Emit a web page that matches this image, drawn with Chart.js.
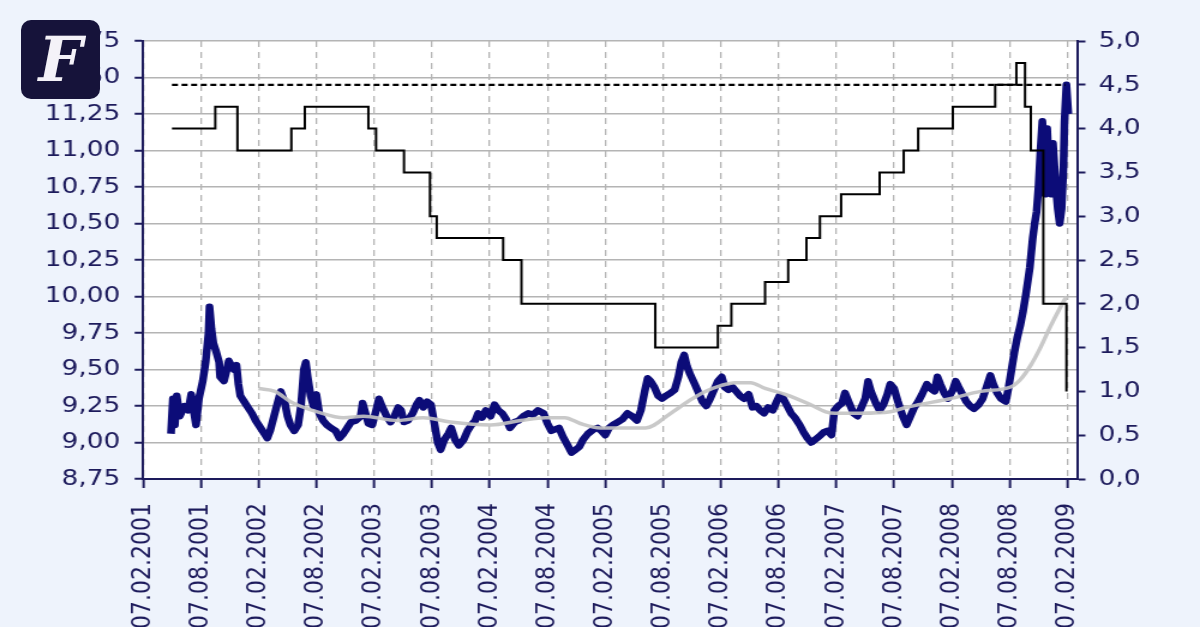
<!DOCTYPE html>
<html>
<head>
<meta charset="utf-8">
<script src="https://cdn.jsdelivr.net/npm/chart.js@4.4.1/dist/chart.umd.min.js"></script>
<style>
html, body { margin: 0; padding: 0; background: #eef3fc; width: 1200px; height: 627px; overflow: hidden; }
#wrap { position: absolute; left: 0; top: 0; width: 1000px; height: 627px; transform: scaleX(1.2); transform-origin: 0 0; }
#logo { position: absolute; left: 21px; top: 20px; width: 79px; height: 79px; border-radius: 10px; background: #16133a;
        color: #f4f2f8; font: bold italic 62px "DejaVu Serif", serif; text-align: center; line-height: 80px; }
</style>
</head>
<body>
<div id="wrap"><canvas id="chart" width="1000" height="627"></canvas></div>
<div id="logo">F</div>
<script>
// x = Monate seit dem 07.02.2001
var tickMonths = [0, 6, 12, 18, 24, 30, 36, 42, 48, 54, 60, 66, 72, 78, 84, 90, 96];
var xTickLabels = ['07.02.2001', '07.08.2001', '07.02.2002', '07.08.2002', '07.02.2003', '07.08.2003',
    '07.02.2004', '07.08.2004', '07.02.2005', '07.08.2005', '07.02.2006', '07.08.2006',
    '07.02.2007', '07.08.2007', '07.02.2008', '07.08.2008', '07.02.2009'];

// Wechselkurs (linke Achse)
var fxMonths = [2.9,3.1,3.3,3.5,3.8,4.3,4.7,5.0,5.3,5.5,
    5.8,6.2,6.5,6.8,6.9,7.1,7.3,7.6,7.9,8.0,
    8.4,8.7,8.9,9.4,9.7,9.9,10.1,10.5,10.9,11.3,
    11.7,12.2,12.6,12.9,13.2,13.6,14.0,14.3,14.7,15.0,
    15.3,15.7,16.1,16.4,16.7,16.9,17.1,17.4,17.7,18.0,
    18.3,18.7,19.1,19.5,20.0,20.4,20.8,21.2,21.6,22.1,
    22.6,22.8,23.1,23.4,23.8,24.2,24.5,24.8,25.3,25.7,
    26.1,26.5,26.8,27.1,27.5,28.0,28.4,28.7,29.1,29.5,
    29.9,30.2,30.6,30.9,31.3,31.7,32.0,32.4,32.8,33.3,
    33.7,34.1,34.5,34.8,35.2,35.6,36.1,36.5,36.9,37.3,
    37.7,38.1,38.6,39.0,39.5,40.0,40.5,41.0,41.6,42.0,
    42.4,42.8,43.2,43.6,44.1,44.5,44.9,45.3,45.7,46.2,
    46.8,47.2,47.6,48.0,48.4,48.8,49.3,49.8,50.3,50.8,
    51.3,51.7,52.1,52.4,52.7,53.1,53.5,53.9,54.3,54.8,
    55.2,55.6,55.9,56.2,56.5,56.8,57.3,57.7,58.1,58.5,
    58.9,59.3,59.7,60.1,60.4,60.8,61.2,61.6,62.0,62.4,
    62.9,63.3,63.7,64.1,64.5,64.9,65.4,65.8,66.1,66.5,
    66.9,67.3,67.7,68.2,68.6,69.0,69.4,69.8,70.2,70.7,
    71.1,71.5,71.8,72.2,72.6,72.9,73.4,73.8,74.2,74.6,
    75.0,75.3,75.6,76.1,76.5,76.9,77.3,77.6,78.0,78.4,
    78.9,79.3,79.7,80.1,80.5,80.9,81.4,81.8,82.2,82.5,
    82.8,83.2,83.6,84.1,84.4,84.7,85.1,85.5,85.9,86.3,
    86.8,87.2,87.6,88.0,88.3,88.7,89.1,89.6,89.9,90.2,
    90.5,90.8,91.1,91.4,91.7,92.1,92.4,92.6,92.8,93.0,
    93.2,93.4,93.6,93.7,93.9,94.1,94.3,94.5,94.8,95.0,
    95.2,95.4,95.6,95.7,95.9,96.1];
var fxValues = [9.06,9.3,9.12,9.32,9.18,9.25,9.22,9.33,9.2,9.12,
    9.3,9.42,9.55,9.75,9.93,9.78,9.68,9.62,9.55,9.45,
    9.42,9.5,9.56,9.5,9.53,9.4,9.32,9.28,9.24,9.2,
    9.15,9.1,9.06,9.03,9.08,9.18,9.28,9.35,9.28,9.18,
    9.12,9.08,9.12,9.25,9.5,9.55,9.45,9.32,9.25,9.33,
    9.2,9.15,9.12,9.1,9.08,9.03,9.06,9.1,9.14,9.15,
    9.18,9.27,9.2,9.13,9.12,9.22,9.3,9.25,9.18,9.14,
    9.18,9.24,9.22,9.14,9.15,9.2,9.26,9.29,9.24,9.28,
    9.26,9.15,9.0,8.95,9.02,9.06,9.1,9.02,8.98,9.02,
    9.08,9.12,9.15,9.2,9.17,9.22,9.18,9.26,9.22,9.2,
    9.16,9.1,9.14,9.15,9.18,9.2,9.19,9.22,9.2,9.13,
    9.08,9.09,9.1,9.04,8.98,8.93,8.95,8.97,9.02,9.06,
    9.09,9.1,9.08,9.05,9.1,9.12,9.14,9.16,9.2,9.18,
    9.15,9.22,9.35,9.44,9.42,9.38,9.32,9.3,9.32,9.34,
    9.36,9.45,9.55,9.6,9.52,9.47,9.4,9.34,9.28,9.25,
    9.3,9.36,9.42,9.45,9.38,9.36,9.38,9.35,9.32,9.3,
    9.33,9.24,9.25,9.22,9.2,9.24,9.22,9.28,9.32,9.3,
    9.25,9.2,9.17,9.12,9.07,9.03,9.0,9.02,9.04,9.07,
    9.08,9.05,9.22,9.25,9.27,9.34,9.26,9.2,9.18,9.24,
    9.3,9.42,9.35,9.27,9.22,9.26,9.33,9.4,9.37,9.28,
    9.18,9.12,9.18,9.24,9.28,9.33,9.4,9.37,9.35,9.45,
    9.4,9.34,9.3,9.36,9.42,9.38,9.33,9.28,9.25,9.23,
    9.26,9.3,9.38,9.46,9.4,9.34,9.3,9.28,9.38,9.5,
    9.62,9.72,9.8,9.9,10.02,10.2,10.4,10.5,10.58,10.75,
    11.0,11.2,11.0,10.7,11.15,10.85,10.7,11.05,10.75,10.6,
    10.5,10.6,10.9,11.2,11.45,11.25];

// gleitender Durchschnitt (linke Achse)
var avgMonths = [12.0,13.7,15.3,16.3,18.1,20.8,22.9,26.4,29.1,31.9,36.1,39.2,41.8,43.8,45.4,47.5,
    52.2,54.8,56.8,58.4,60.0,61.5,63.1,64.6,66.7,69.3,70.9,71.9,74.5,77.6,79.2,80.7,
    83.8,87.0,90.1,91.1,92.2,93.2,94.2,95.3,95.9];
var avgValues = [9.37,9.35,9.28,9.25,9.21,9.17,9.18,9.15,9.17,9.14,9.12,9.15,9.17,9.17,9.13,9.10,
    9.10,9.20,9.29,9.35,9.39,9.41,9.41,9.37,9.33,9.26,9.21,9.20,9.20,9.21,9.24,9.26,
    9.30,9.35,9.38,9.43,9.53,9.65,9.79,9.93,10.0];

// Leitzins (rechte Achse), Wert gilt ab dem jeweiligen Monat
var rateMonths = [3.0, 7.5, 9.8, 15.4, 16.8, 23.4, 24.2, 27.1, 29.8, 30.5, 37.4, 39.3, 53.2, 59.7, 61.1,
    64.6, 67.0, 68.9, 70.3, 72.5, 76.5, 79.0, 80.5, 84.1, 88.5, 90.7, 91.6, 92.2, 93.5, 95.9];
var rateValues = [4.0, 4.25, 3.75, 4.0, 4.25, 4.0, 3.75, 3.5, 3.0, 2.75, 2.5, 2.0, 1.5, 1.75, 2.0,
    2.25, 2.5, 2.75, 3.0, 3.25, 3.5, 3.75, 4.0, 4.25, 4.5, 4.75, 4.25, 3.75, 2.0, 1.0];

// gestrichelte Linie (rechte Achse)
var dashMonths = [3.0, 95.8];
var dashLevel = 4.5;

var navy = '#1d1b5c';
var tickFont = { family: 'DejaVu Sans', size: 22 };

function pairs(xs, ys) {
    return xs.map(function (x, i) { return { x: x, y: ys[i] }; });
}

var plotBg = {
    id: 'plotBg',
    beforeDraw: function (chart) {
        var a = chart.chartArea, c = chart.ctx;
        c.save();
        c.fillStyle = '#ffffff';
        c.fillRect(a.left, a.top, a.right - a.left, a.bottom - a.top);
        c.restore();
    }
};

var ctx = document.getElementById('chart').getContext('2d');
var chart = new Chart(ctx, {
    type: 'line',
    data: {
        datasets: [{
            label: 'Marke',
            data: dashMonths.map(function (m) { return { x: m, y: dashLevel }; }),
            yAxisID: 'y2',
            borderColor: '#000000',
            borderWidth: 2.2,
            borderDash: [5, 3],
            pointRadius: 0
        }, {
            label: 'Leitzins',
            data: pairs(rateMonths, rateValues),
            yAxisID: 'y2',
            stepped: true,
            borderColor: '#000000',
            borderWidth: 2,
            pointRadius: 0
        }, {
            label: 'Durchschnitt',
            data: pairs(avgMonths, avgValues),
            yAxisID: 'y',
            borderColor: 'rgba(195,195,195,0.9)',
            borderWidth: 3.5,
            cubicInterpolationMode: 'monotone',
            pointRadius: 0
        }, {
            label: 'Kurs',
            data: pairs(fxMonths, fxValues),
            yAxisID: 'y',
            borderColor: '#0c0c78',
            borderWidth: 6.5,
            borderJoinStyle: 'round',
            pointRadius: 0
        }]
    },
    options: {
        responsive: false,
        animation: false,
        devicePixelRatio: 1,
        layout: { padding: { top: 41, left: 0, right: 0, bottom: 0 } },
        plugins: { legend: { display: false }, tooltip: { enabled: false } },
        scales: {
            x: {
                type: 'linear',
                min: 0,
                max: 97,
                afterBuildTicks: function (s) { s.ticks = tickMonths.map(function (v) { return { value: v }; }); },
                afterFit: function (s) { s.height = 148; },
                ticks: {
                    autoSkip: false,
                    minRotation: 90,
                    maxRotation: 90,
                    padding: 15,
                    color: navy,
                    font: { family: 'DejaVu Sans', size: 22 },
                    callback: function (v, i) { return xTickLabels[i]; }
                },
                grid: { color: '#b4b4b4', lineWidth: 1.3, tickColor: navy, tickLength: 9, tickWidth: 2 },
                border: { color: navy, width: 2, dash: [6, 5] }
            },
            y: {
                position: 'left',
                min: 8.75,
                max: 11.75,
                afterFit: function (s) { s.width = 119.2; },
                ticks: {
                    stepSize: 0.25,
                    padding: 12,
                    color: navy,
                    font: tickFont,
                    callback: function (v) { return v.toFixed(2).replace('.', ','); }
                },
                grid: { color: '#b4b4b4', lineWidth: 1.5, tickColor: navy, tickLength: 7, tickWidth: 2 },
                border: { color: navy, width: 2 }
            },
            y2: {
                position: 'right',
                min: 0,
                max: 5,
                afterFit: function (s) { s.width = 102.5; },
                ticks: {
                    stepSize: 0.5,
                    padding: 11,
                    color: navy,
                    font: tickFont,
                    callback: function (v) { return v.toFixed(1).replace('.', ','); }
                },
                grid: { drawOnChartArea: false, tickColor: navy, tickLength: 7, tickWidth: 2 },
                border: { color: navy, width: 2 }
            }
        }
    },
    plugins: [plotBg]
});
</script>
</body>
</html>
